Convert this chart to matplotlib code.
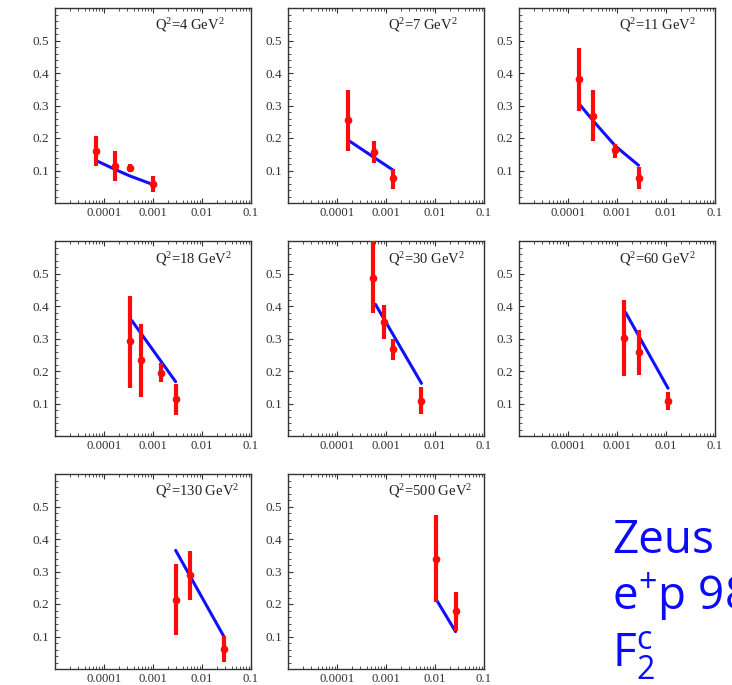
import matplotlib
matplotlib.use("Agg")
import matplotlib.pyplot as plt
from matplotlib.ticker import FixedLocator, LogLocator, MultipleLocator, NullFormatter, FixedFormatter

# Q^2 bins (GeV^2)
q2 = [4, 7, 11, 18, 30, 60, 130, 500]

# measured F2c: x, value, lower and upper end of the error bar
x_data = [
    [7.0e-5, 1.7e-4, 3.4e-4, 9.8e-4],
    [1.68e-4, 5.6e-4, 1.36e-3],
    [1.68e-4, 3.3e-4, 9.3e-4, 2.75e-3],
    [3.4e-4, 5.8e-4, 1.43e-3, 2.9e-3],
    [5.5e-4, 9.2e-4, 1.36e-3, 5.3e-3],
    [1.41e-3, 2.78e-3, 1.11e-2],
    [2.9e-3, 5.6e-3, 2.8e-2],
    [1.07e-2, 2.63e-2],
]
f2c = [
    [0.160, 0.114, 0.109, 0.060],
    [0.255, 0.158, 0.076],
    [0.381, 0.267, 0.163, 0.076],
    [0.292, 0.234, 0.195, 0.114],
    [0.487, 0.352, 0.267, 0.109],
    [0.302, 0.259, 0.108],
    [0.213, 0.290, 0.063],
    [0.339, 0.179],
]
f2c_lo = [
    [0.114, 0.068, 0.094, 0.035],
    [0.160, 0.122, 0.043],
    [0.282, 0.191, 0.140, 0.043],
    [0.149, 0.119, 0.167, 0.065],
    [0.379, 0.298, 0.234, 0.067],
    [0.185, 0.188, 0.080],
    [0.104, 0.213, 0.022],
    [0.205, 0.118],
]
f2c_hi = [
    [0.206, 0.160, 0.121, 0.084],
    [0.347, 0.191, 0.106],
    [0.478, 0.347, 0.183, 0.111],
    [0.432, 0.345, 0.224, 0.159],
    [0.600, 0.403, 0.298, 0.150],
    [0.418, 0.326, 0.136],
    [0.324, 0.362, 0.102],
    [0.473, 0.236],
]

# model curves
x_fit = [
    [7.5e-5, 1.7e-4, 3.4e-4, 9.5e-4],
    [1.7e-4, 1.4e-3],
    [1.8e-4, 3.3e-4, 9.3e-4, 2.75e-3],
    [3.7e-4, 2.9e-3],
    [6.1e-4, 5.3e-3],
    [1.5e-3, 1.1e-2],
    [2.9e-3, 2.75e-2],
    [1.07e-2, 2.63e-2],
]
y_fit = [
    [0.128, 0.103, 0.083, 0.058],
    [0.193, 0.101],
    [0.300, 0.252, 0.175, 0.116],
    [0.355, 0.167],
    [0.405, 0.162],
    [0.380, 0.147],
    [0.365, 0.102],
    [0.213, 0.115],
]

x_ticks = [1e-4, 1e-3, 1e-2, 1e-1]
x_labels = ["0.0001", "0.001", "0.01", "0.1"]
y_ticks = [0.1, 0.2, 0.3, 0.4, 0.5]

W, H = 732, 685
fig = plt.figure(figsize=(W / 100, H / 100), dpi=100)

lefts = [55, 288, 519]
tops = [8, 241, 474]
aw, ah = 196, 195

plt.rcParams["font.family"] = ["Liberation Serif", "DejaVu Serif"]

for i in range(len(q2)):
    r, c = divmod(i, 3)
    ax = fig.add_axes([lefts[c] / W, 1 - (tops[r] + ah) / H, aw / W, ah / H])
    ax.set_xscale("log")
    ax.set_xlim(1e-5, 0.1)
    ax.set_ylim(0, 0.6)

    ax.plot(x_fit[i], y_fit[i], color="#1010ff", lw=2.2, solid_capstyle="round", zorder=2)
    lo = [v - l for v, l in zip(f2c[i], f2c_lo[i])]
    hi = [h - v for v, h in zip(f2c[i], f2c_hi[i])]
    ax.errorbar(x_data[i], f2c[i], yerr=[lo, hi], fmt="o", color="#ff0a0a",
                ms=4.5, elinewidth=3.0, capsize=0, zorder=3)

    ax.xaxis.set_major_locator(FixedLocator(x_ticks))
    ax.xaxis.set_major_formatter(FixedFormatter(x_labels))
    ax.xaxis.set_minor_locator(LogLocator(base=10, subs=range(2, 10), numticks=20))
    ax.xaxis.set_minor_formatter(NullFormatter())
    ax.yaxis.set_major_locator(FixedLocator(y_ticks))
    ax.yaxis.set_minor_locator(MultipleLocator(0.02))
    ax.set_yticklabels([f"{v:.1f}" for v in y_ticks])

    ax.tick_params(which="both", direction="in", top=True, right=False, colors="#333333")
    ax.tick_params(axis="x", labelsize=9.2, pad=3)
    ax.tick_params(axis="y", labelsize=9.5, pad=4)
    ax.tick_params(which="major", length=3.5, width=0.8)
    ax.tick_params(which="minor", length=2, width=0.6)
    for sp in ax.spines.values():
        sp.set_color("#333333")
        sp.set_linewidth(1.0)

    ax.text(0.51, 0.91, r"Q$\mathregular{^2}$=%d GeV$\mathregular{^2}$" % q2[i],
            transform=ax.transAxes, fontsize=10.5, ha="left", va="center", color="#222222")

# experiment / run label
big = dict(fontsize=33, color="#0a0aff", family=["Open Sans", "DejaVu Sans"], ha="left",
           va="baseline")
fig.text(612 / W, 1 - 553 / H, "Zeus", **big)
fig.text(612 / W, 1 - 610 / H, r"e$\mathregular{^{{+}}}$p 98", **big)
fig.text(612 / W, 1 - 667 / H, r"F$\mathregular{_{2}^{c}}$", **big)

fig.savefig("out.png", dpi=100)
